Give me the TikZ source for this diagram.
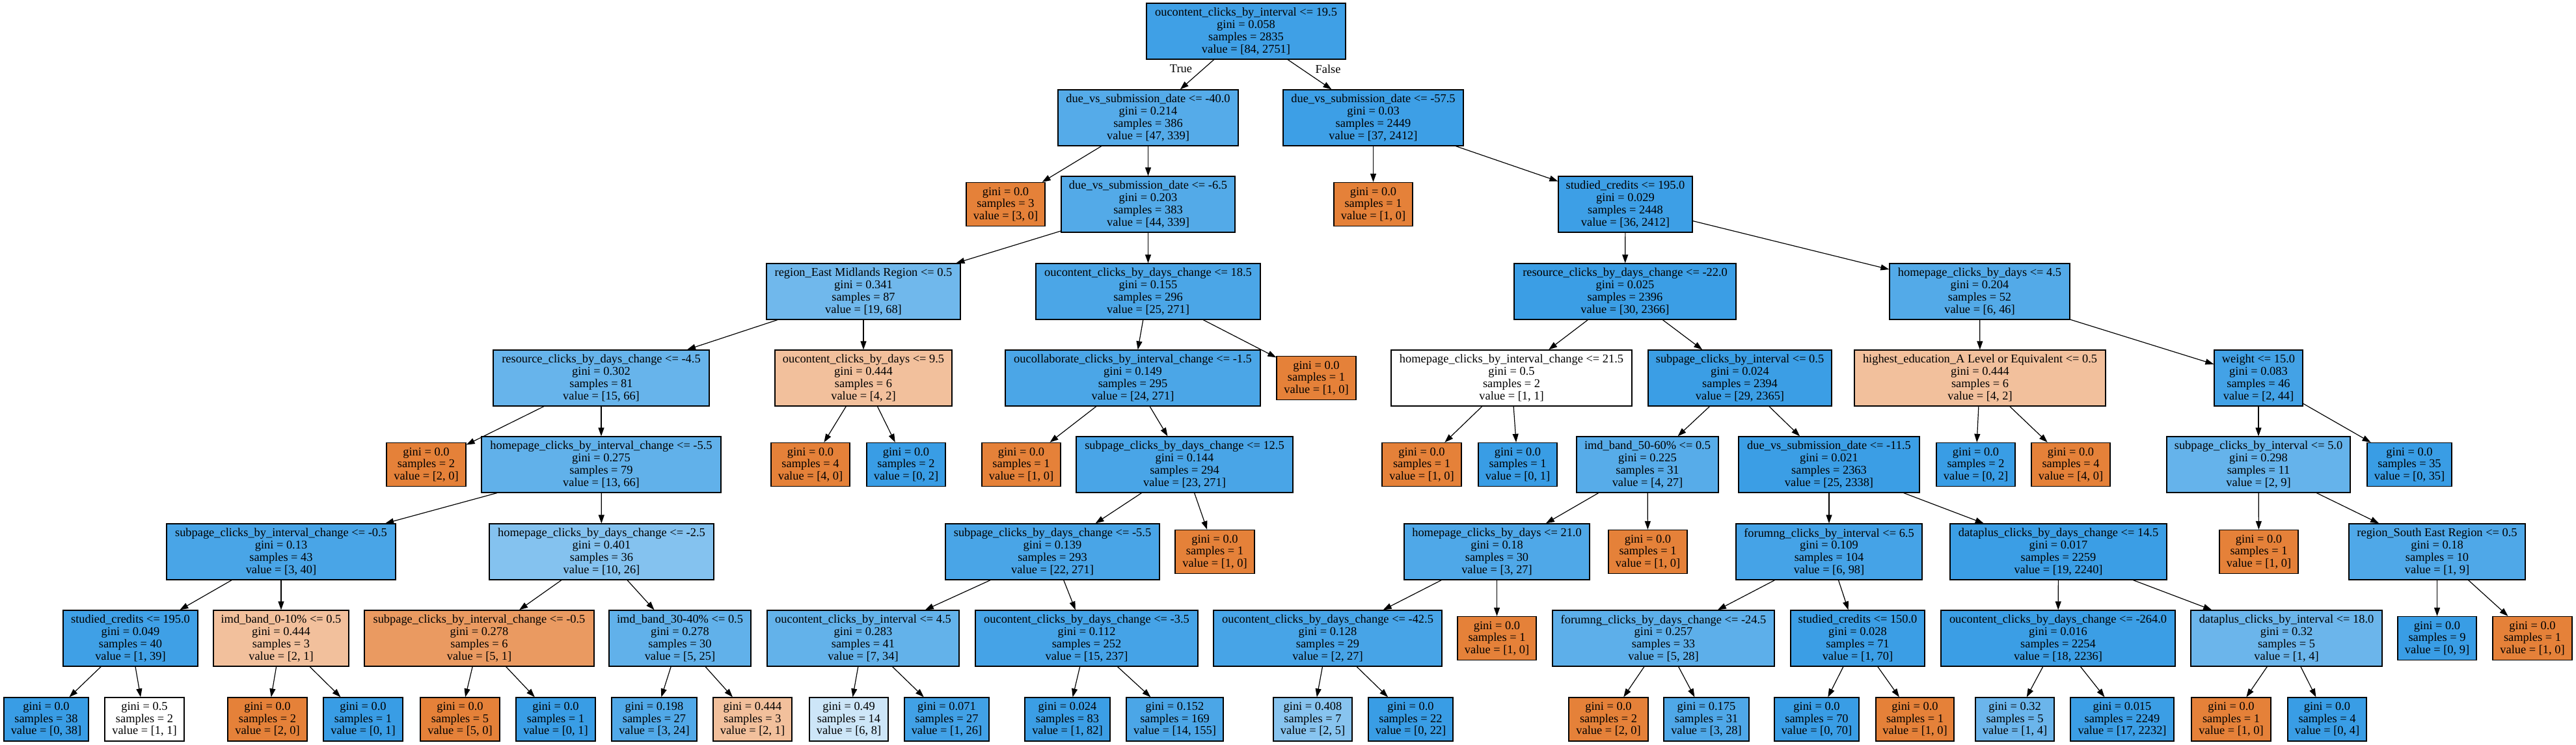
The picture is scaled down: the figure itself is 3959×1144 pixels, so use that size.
\documentclass[tikz,border=0pt]{standalone}
\usepackage{fontspec}
\setmainfont{Liberation Serif}
\usetikzlibrary{arrows.meta}
\definecolor{cb}{RGB}{57,157,229}
\definecolor{co}{RGB}{229,129,57}
\newcommand{\tfont}{\fontsize{18.4bp}{18.7bp}\selectfont}
\tikzset{
  splitbox/.style={draw=black, line width=1.3bp, rectangle, inner sep=0pt, minimum height=86bp, align=center, font=\tfont},
  leafbox/.style={splitbox, minimum height=67bp},
  edge/.style={-{Triangle[length=13bp,width=9bp]}, line width=1.2bp, draw=black},
  elabel/.style={font=\tfont, inner sep=0pt}
}
\newcommand{\leafnode}[8]{\node[leafbox, fill=#4, minimum width=#5bp] (#1) at (#2,#3) {gini = #6\\samples = #7\\value = [#8]};}
\newcommand{\splitnode}[9]{\node[splitbox, fill=#4, minimum width=#5bp] (#1) at (#2,#3) {#6\\gini = #7\\samples = #8\\value = [#9]};}
\begin{document}
\begin{tikzpicture}[x=1bp, y=-1bp]
\useasboundingbox (0,0) rectangle (3959,1144);
% level 0
\splitnode{r}{1915}{48}{cb!97}{306}{oucontent\_clicks\_by\_interval <= 19.5}{0.058}{2835}{84, 2751}
% level 1
\splitnode{a}{1764.5}{181}{cb!86}{277}{due\_vs\_submission\_date <= -40.0}{0.214}{386}{47, 339}
\splitnode{b}{2110.5}{181}{cb!98}{277}{due\_vs\_submission\_date <= -57.5}{0.03}{2449}{37, 2412}
% level 2
\leafnode{aL}{1545.5}{314}{co}{121}{0.0}{3}{3, 0}
\splitnode{aR}{1764.5}{314}{cb!87}{267}{due\_vs\_submission\_date <= -6.5}{0.203}{383}{44, 339}
\leafnode{bL}{2110.5}{314}{co}{121}{0.0}{1}{1, 0}
\splitnode{bR}{2498}{314}{cb!98}{206}{studied\_credits <= 195.0}{0.029}{2448}{36, 2412}
% level 3
\splitnode{c1}{1327}{448}{cb!72}{298}{region\_East Midlands Region <= 0.5}{0.341}{87}{19, 68}
\splitnode{c2}{1764.5}{448}{cb!91}{345}{oucontent\_clicks\_by\_days\_change <= 18.5}{0.155}{296}{25, 271}
\splitnode{c3}{2497.5}{448}{cb!99}{341}{resource\_clicks\_by\_days\_change <= -22.0}{0.025}{2396}{30, 2366}
\splitnode{c4}{3042.5}{448}{cb!87}{277}{homepage\_clicks\_by\_days <= 4.5}{0.204}{52}{6, 46}
% level 4
\splitnode{d1}{924}{581}{cb!77}{332}{resource\_clicks\_by\_days\_change <= -4.5}{0.302}{81}{15, 66}
\splitnode{d2}{1327}{581}{co!50}{272}{oucontent\_clicks\_by\_days <= 9.5}{0.444}{6}{4, 2}
\splitnode{d3}{1741}{581}{cb!91}{392}{oucollaborate\_clicks\_by\_interval\_change <= -1.5}{0.149}{295}{24, 271}
\leafnode{d4}{2023}{581}{co}{122}{0.0}{1}{1, 0}
\splitnode{d5}{2323}{581}{white}{370}{homepage\_clicks\_by\_interval\_change <= 21.5}{0.5}{2}{1, 1}
\splitnode{d6}{2674}{581}{cb!99}{282}{subpage\_clicks\_by\_interval <= 0.5}{0.024}{2394}{29, 2365}
\splitnode{d7}{3043}{581}{co!50}{386}{highest\_education\_A Level or Equivalent <= 0.5}{0.444}{6}{4, 2}
\splitnode{d8}{3471}{581}{cb!95}{136}{weight <= 15.0}{0.083}{46}{2, 44}
% level 5
\leafnode{e1}{655}{714}{co}{122}{0.0}{2}{2, 0}
\splitnode{e2}{924}{714}{cb!80}{368}{homepage\_clicks\_by\_interval\_change <= -5.5}{0.275}{79}{13, 66}
\leafnode{e3}{1245.5}{714}{co}{121}{0.0}{4}{4, 0}
\leafnode{e4}{1392.5}{714}{cb}{121}{0.0}{2}{0, 2}
\leafnode{e5}{1569.5}{714}{co}{121}{0.0}{1}{1, 0}
\splitnode{e6}{1820.5}{714}{cb!92}{333}{subpage\_clicks\_by\_days\_change <= 12.5}{0.144}{294}{23, 271}
\leafnode{e7}{2185}{714}{co}{122}{0.0}{1}{1, 0}
\leafnode{e8}{2332.5}{714}{cb}{121}{0.0}{1}{0, 1}
\splitnode{e9}{2532}{714}{cb!85}{218}{imd\_band\_50-60\% <= 0.5}{0.225}{31}{4, 27}
\splitnode{e10}{2811}{714}{cb!99}{278}{due\_vs\_submission\_date <= -11.5}{0.021}{2363}{25, 2338}
\leafnode{e11}{3036.5}{714}{cb}{121}{0.0}{2}{0, 2}
\leafnode{e12}{3182.5}{714}{co}{121}{0.0}{4}{4, 0}
\splitnode{e13}{3471}{714}{cb!78}{282}{subpage\_clicks\_by\_interval <= 5.0}{0.298}{11}{2, 9}
\leafnode{e14}{3703}{714}{cb}{130}{0.0}{35}{0, 35}
% level 6
\splitnode{f1}{432}{848}{cb!92}{352}{subpage\_clicks\_by\_interval\_change <= -0.5}{0.13}{43}{3, 40}
\splitnode{f2}{924.5}{848}{cb!62}{345}{homepage\_clicks\_by\_days\_change <= -2.5}{0.401}{36}{10, 26}
\splitnode{f3}{1617.5}{848}{cb!92}{329}{subpage\_clicks\_by\_days\_change <= -5.5}{0.139}{293}{22, 271}
\leafnode{f4}{1867}{848}{co}{122}{0.0}{1}{1, 0}
\splitnode{f5}{2300.5}{848}{cb!89}{285}{homepage\_clicks\_by\_days <= 21.0}{0.18}{30}{3, 27}
\leafnode{f6}{2532.5}{848}{co}{121}{0.0}{1}{1, 0}
\splitnode{f7}{2811}{848}{cb!94}{286}{forumng\_clicks\_by\_interval <= 6.5}{0.109}{104}{6, 98}
\splitnode{f8}{3163.5}{848}{cb!99}{333}{dataplus\_clicks\_by\_days\_change <= 14.5}{0.017}{2259}{19, 2240}
\leafnode{f9}{3471.5}{848}{co}{121}{0.0}{1}{1, 0}
\splitnode{f10}{3745.5}{848}{cb!89}{271}{region\_South East Region <= 0.5}{0.18}{10}{1, 9}
% level 7
\splitnode{g1}{200.5}{981}{cb!97}{207}{studied\_credits <= 195.0}{0.049}{40}{1, 39}
\splitnode{g2}{432}{981}{co!50}{208}{imd\_band\_0-10\% <= 0.5}{0.444}{3}{2, 1}
\splitnode{g3}{736.5}{981}{co!80}{353}{subpage\_clicks\_by\_interval\_change <= -0.5}{0.278}{6}{5, 1}
\splitnode{g4}{1045}{981}{cb!80}{218}{imd\_band\_30-40\% <= 0.5}{0.278}{30}{5, 25}
\splitnode{g5}{1326.5}{981}{cb!79}{295}{oucontent\_clicks\_by\_interval <= 4.5}{0.283}{41}{7, 34}
\splitnode{g6}{1670}{981}{cb!94}{342}{oucontent\_clicks\_by\_days\_change <= -3.5}{0.112}{252}{15, 237}
\splitnode{g7}{2040.5}{981}{cb!93}{351}{oucontent\_clicks\_by\_days\_change <= -42.5}{0.128}{29}{2, 27}
\leafnode{g8}{2300.5}{981}{co}{121}{0.0}{1}{1, 0}
\splitnode{g9}{2556.5}{981}{cb!82}{341}{forumng\_clicks\_by\_days\_change <= -24.5}{0.257}{33}{5, 28}
\splitnode{g10}{2855}{981}{cb!99}{206}{studied\_credits <= 150.0}{0.028}{71}{1, 70}
\splitnode{g11}{3163}{981}{cb!99}{360}{oucontent\_clicks\_by\_days\_change <= -264.0}{0.016}{2254}{18, 2236}
\splitnode{g12}{3514}{981}{cb!75}{294}{dataplus\_clicks\_by\_interval <= 18.0}{0.32}{5}{1, 4}
\leafnode{g13}{3745.5}{981}{cb}{121}{0.0}{9}{0, 9}
\leafnode{g14}{3892}{981}{co}{122}{0.0}{1}{1, 0}
% level 8
\leafnode{h1}{71}{1105.5}{cb}{130}{0.0}{38}{0, 38}
\leafnode{h2}{222}{1105.5}{white}{122}{0.5}{2}{1, 1}
\leafnode{h3}{411}{1105.5}{co}{122}{0.0}{2}{2, 0}
\leafnode{h4}{558}{1105.5}{cb}{122}{0.0}{1}{0, 1}
\leafnode{h5}{707}{1105.5}{co}{122}{0.0}{5}{5, 0}
\leafnode{h6}{854}{1105.5}{cb}{122}{0.0}{1}{0, 1}
\leafnode{h7}{1005.5}{1105.5}{cb!88}{131}{0.198}{27}{3, 24}
\leafnode{h8}{1156.5}{1105.5}{co!50}{121}{0.444}{3}{2, 1}
\leafnode{h9}{1304.5}{1105.5}{cb!25}{121}{0.49}{14}{6, 8}
\leafnode{h10}{1455}{1105.5}{cb!96}{130}{0.071}{27}{1, 26}
\leafnode{h11}{1640.5}{1105.5}{cb!99}{131}{0.024}{83}{1, 82}
\leafnode{h12}{1805.5}{1105.5}{cb!91}{149}{0.152}{169}{14, 155}
\leafnode{h13}{2017.5}{1105.5}{cb!60}{121}{0.408}{7}{2, 5}
\leafnode{h14}{2168}{1105.5}{cb}{130}{0.0}{22}{0, 22}
\leafnode{h15}{2472}{1105.5}{co}{122}{0.0}{2}{2, 0}
\leafnode{h16}{2622.5}{1105.5}{cb!89}{131}{0.175}{31}{3, 28}
\leafnode{h17}{2792}{1105.5}{cb}{130}{0.0}{70}{0, 70}
\leafnode{h18}{2943}{1105.5}{co}{120}{0.0}{1}{1, 0}
\leafnode{h19}{3096.5}{1105.5}{cb!75}{121}{0.32}{5}{1, 4}
\leafnode{h20}{3261.5}{1105.5}{cb!99}{159}{0.015}{2249}{17, 2232}
\leafnode{h21}{3429}{1105.5}{co}{122}{0.0}{1}{1, 0}
\leafnode{h22}{3576.5}{1105.5}{cb}{121}{0.0}{4}{0, 4}
% edge labels
\node[elabel] (tl) at (1815,106) {True};
\node[elabel] (fl) at (2041,106) {False};
% edges
\foreach \p/\c in {r/a, r/b, a/aL, a/aR, b/bL, b/bR, aR/c1, aR/c2, bR/c3, bR/c4,
  c1/d1, c1/d2, c2/d3, c2/d4, c3/d5, c3/d6, c4/d7, c4/d8,
  d1/e1, d1/e2, d2/e3, d2/e4, d3/e5, d3/e6, d5/e7, d5/e8, d6/e9, d6/e10, d7/e11, d7/e12, d8/e13, d8/e14,
  e2/f1, e2/f2, e6/f3, e6/f4, e9/f5, e9/f6, e10/f7, e10/f8, e13/f9, e13/f10,
  f1/g1, f1/g2, f2/g3, f2/g4, f3/g5, f3/g6, f5/g7, f5/g8, f7/g9, f7/g10, f8/g11, f8/g12, f10/g13, f10/g14,
  g1/h1, g1/h2, g2/h3, g2/h4, g3/h5, g3/h6, g4/h7, g4/h8, g5/h9, g5/h10, g6/h11, g6/h12,
  g7/h13, g7/h14, g9/h15, g9/h16, g10/h17, g10/h18, g11/h19, g11/h20, g12/h21, g12/h22}
  \draw[edge] (\p) -- (\c);
\end{tikzpicture}
\end{document}
